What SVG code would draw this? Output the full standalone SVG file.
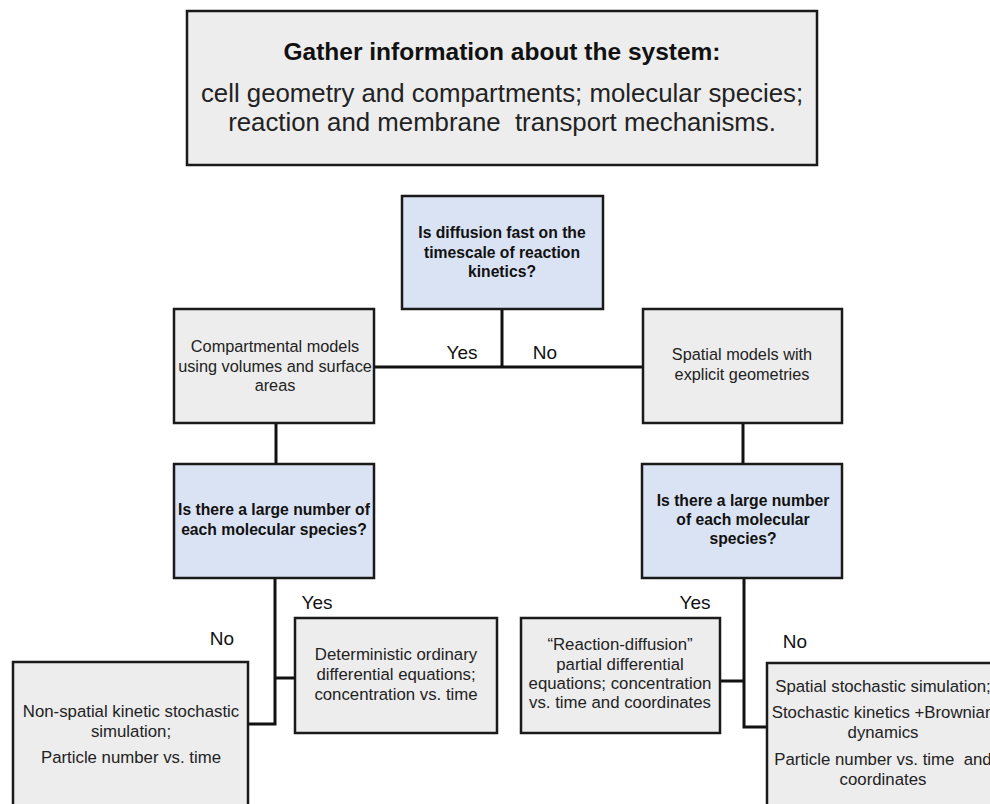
<svg xmlns="http://www.w3.org/2000/svg" width="990" height="804" viewBox="0 0 990 804">
<style>
  .gray { fill: #ededed; stroke: #1a1a1a; stroke-width: 2.5; }
  .blue { fill: #dae3f3; stroke: #1a1a1a; stroke-width: 2.5; }
  .conn { fill: none; stroke: #111; stroke-width: 3; }
  text { font-family: "Liberation Sans", Arial, sans-serif; text-anchor: middle; fill: #222; }
  .q { font-weight: bold; font-size: 15.7px; fill: #111; }
  .r { font-size: 16.3px; }
  .r2 { font-size: 16.8px; }
  .lbl { font-size: 19px; fill: #111; }
  .pre { white-space: pre; }
</style>
<rect width="990" height="804" fill="#ffffff"/>

<g id="gather">
  <rect class="gray" x="187" y="11" width="630" height="154"/>
  <text x="502" y="60" style="font-weight:bold;font-size:24.5px;fill:#111">Gather information about the system:</text>
  <text x="502" y="102" style="font-size:25.8px">cell geometry and compartments; molecular species;</text>
  <text x="502" y="131" class="pre" style="font-size:25.8px">reaction and membrane  transport mechanisms.</text>
</g>

<g id="connectors">
  <polyline class="conn" points="502,309 502,367"/>
  <polyline class="conn" points="374,367 643,367"/>
  <polyline class="conn" points="276,423 276,464"/>
  <polyline class="conn" points="743,423 743,464"/>
  <polyline class="conn" points="275,578 275,724 248,724"/>
  <polyline class="conn" points="275,678 295,678"/>
  <polyline class="conn" points="744,578 744,727 767,727"/>
  <polyline class="conn" points="744,681 720,681"/>
</g>

<g id="labels">
  <text class="lbl" x="462" y="359">Yes</text>
  <text class="lbl" x="545" y="359">No</text>
  <text class="lbl" x="317" y="609">Yes</text>
  <text class="lbl" x="222" y="645">No</text>
  <text class="lbl" x="695" y="609">Yes</text>
  <text class="lbl" x="795" y="648">No</text>
</g>

<g id="diffusion">
  <rect class="blue" x="402" y="196" width="201" height="113"/>
  <text class="q" x="502" y="238">Is diffusion fast on the</text>
  <text class="q" x="502" y="258">timescale of reaction</text>
  <text class="q" x="502" y="277">kinetics?</text>
</g>

<g id="compartmental">
  <rect class="gray" x="174" y="309" width="200" height="114"/>
  <text class="r" x="275" y="352">Compartmental models</text>
  <text class="r" x="275" y="372">using volumes and surface</text>
  <text class="r" x="275" y="391">areas</text>
</g>

<g id="spatial">
  <rect class="gray" x="643" y="309" width="199" height="114"/>
  <text class="r" x="742" y="360">Spatial models with</text>
  <text class="r" x="742" y="380">explicit geometries</text>
</g>

<g id="q-left">
  <rect class="blue" x="174" y="464" width="200" height="114"/>
  <text class="q" x="274" y="515">Is there a large number of</text>
  <text class="q" x="274" y="535">each molecular species?</text>
</g>

<g id="q-right">
  <rect class="blue" x="642" y="464" width="200" height="114"/>
  <text class="q" x="743" y="506">Is there a large number</text>
  <text class="q" x="743" y="525">of each molecular</text>
  <text class="q" x="743" y="544">species?</text>
</g>

<g id="nonspatial">
  <rect class="gray" x="13" y="662" width="235" height="160"/>
  <text class="r2" x="131" y="717">Non-spatial kinetic stochastic</text>
  <text class="r2" x="131" y="737">simulation;</text>
  <text class="r2" x="131" y="763">Particle number vs. time</text>
</g>

<g id="deterministic">
  <rect class="gray" x="295" y="618" width="202" height="115"/>
  <text class="r2" x="396" y="660">Deterministic ordinary</text>
  <text class="r2" x="396" y="680">differential equations;</text>
  <text class="r2" x="396" y="700">concentration vs. time</text>
</g>

<g id="reaction-diffusion">
  <rect class="gray" x="521" y="618" width="199" height="115"/>
  <text class="r2" x="620" y="650">“Reaction-diffusion”</text>
  <text class="r2" x="620" y="670">partial differential</text>
  <text class="r2" x="620" y="689">equations; concentration</text>
  <text class="r2" x="620" y="708">vs. time and coordinates</text>
</g>

<g id="spatial-stochastic">
  <rect class="gray" x="767" y="663" width="240" height="160"/>
  <text class="r2" x="883" y="692">Spatial stochastic simulation;</text>
  <text class="r2" x="883" y="718">Stochastic kinetics +Brownian</text>
  <text class="r2" x="883" y="738">dynamics</text>
  <text class="r2 pre" x="883" y="765">Particle number vs. time  and</text>
  <text class="r2" x="883" y="785">coordinates</text>
</g>
</svg>
